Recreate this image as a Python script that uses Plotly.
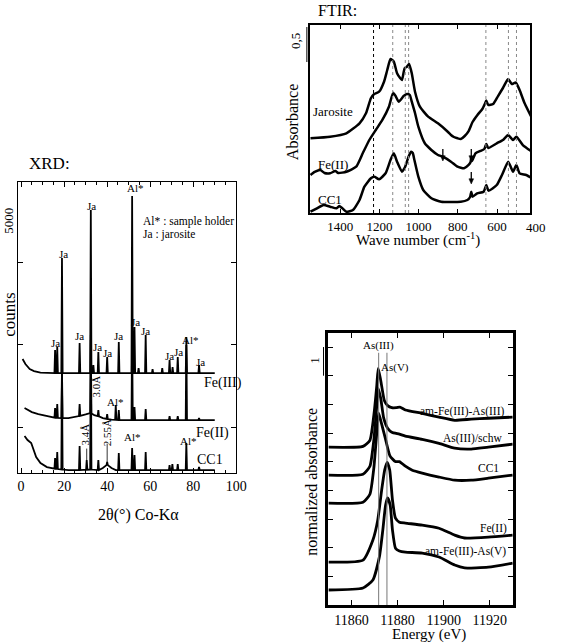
import plotly.graph_objects as go

W, H = 561, 643
FONT = "Liberation Serif, Times New Roman, serif"

# ---------------- XRD (2theta in degrees, counts above each pattern's own baseline) ----------------
xrd_fe3_x = [0.7, 2, 4, 6, 9, 12, 15.5, 15.8, 16.1, 16.5, 16.8, 17.1, 18.7, 19.0, 19.3, 24, 26.9, 27.2, 27.5, 30,
             32.1, 32.4, 32.7, 33.3, 33.6, 33.9, 35.6, 35.9, 36.2, 39.7, 40.0, 40.3, 45.1, 45.4, 45.7, 51.3, 51.6, 51.9,
             52.4, 52.7, 53.0, 54.3, 54.6, 54.9, 57.6, 57.9, 58.2, 60.8, 61.1, 61.4, 65.3, 65.6, 65.9, 68.7, 69.0, 69.3,
             70.1, 70.4, 70.7, 72.5, 72.8, 73.1, 76.5, 76.8, 77.1, 82.4, 82.7, 83.0, 90]
xrd_fe3_y = [424, 273, 121, 61, 15, 0, 0, 697, 0, 0, 788, 0, 0, 3485, 0, 0, 0, 909, 0, 0,
             0, 4939, 0, 0, 242, 0, 0, 636, 0, 0, 485, 0, 0, 939, 0, 0, 5363, 0,
             0, 1394, 0, 0, 150, 0, 0, 1151, 0, 0, 120, 0, 0, 150, 0, 0, 394, 0,
             0, 180, 0, 0, 485, 0, 0, 848, 0, 0, 242, 0, 0]

xrd_fe2_x = [1.6, 3, 5, 8, 12, 15.5, 15.8, 16.1, 16.5, 16.8, 17.1, 18.7, 19.0, 19.3, 22, 26.9, 27.2, 27.5, 30,
             32.1, 32.4, 32.7, 34, 35.6, 35.9, 36.2, 38, 39.7, 40.0, 40.3, 42, 43.7, 44.0, 44.3, 45.1, 45.4, 45.7, 48,
             51.3, 51.6, 51.9, 52.4, 52.7, 53.0, 57.6, 57.9, 58.2, 68.7, 69.0, 69.3, 72.5, 72.8, 73.1, 76.5, 76.8, 77.1,
             82.4, 82.7, 83.0, 90]
xrd_fe2_y = [364, 303, 242, 182, 121, 70, 364, 65, 65, 485, 65, 60, 1515, 60, 61, 120, 485, 130, 170,
             210, 2424, 200, 150, 121, 303, 110, 60, 35, 182, 30, 10, 5, 455, 5, 0, 303, 0, 0,
             0, 2727, 0, 0, 394, 0, 0, 333, 0, 0, 121, 0, 0, 121, 0, 0, 2515, 0,
             0, 61, 0, 0]

xrd_cc1_x = [1.6, 3, 4.7, 6, 7, 9, 12, 15.5, 15.8, 16.1, 16.5, 16.8, 17.1, 18.7, 19.0, 19.3, 22, 26.9, 27.2, 27.5,
             30.2, 30.5, 30.8, 32.1, 32.4, 32.7, 35.6, 35.9, 36.2, 38, 39.7, 40.0, 40.3, 42, 44, 45.1, 45.4, 45.7,
             51.3, 51.6, 51.9, 52.4, 52.7, 53.0, 57.6, 57.9, 58.2, 68.7, 69.0, 69.3, 70.0, 70.3, 70.6, 72.5, 72.8, 73.1,
             76.5, 76.8, 77.1, 82.4, 82.7, 83.0, 90]
xrd_cc1_y = [1030, 909, 818, 545, 394, 212, 91, 40, 364, 35, 35, 545, 30, 15, 2970, 15, 0, 0, 727, 0,
             10, 303, 10, 15, 4090, 15, 0, 303, 0, 60, 150, 242, 150, 60, 0, 0, 515, 0,
             0, 667, 0, 0, 455, 0, 0, 545, 0, 0, 152, 0, 0, 180, 0, 0, 182, 0,
             0, 818, 0, 0, 91, 0, 0]

XRD_OFFSET_FE3 = 1640
XRD_OFFSET_FE2 = 215
XRD_OFFSET_CC1 = -1300

# ---------------- FTIR (wavenumber cm-1, absorbance) ----------------
ftir_jar_wn = [1551.5, 1451.5, 1368.5, 1301.5, 1268.5, 1243.5, 1226.5, 1201.5, 1176.5, 1160, 1143.5, 1126.5, 1110,
               1093.5, 1085, 1071.5, 1060, 1048.5, 1035, 1018.5, 993.5, 951.5, 901.5, 851.5, 835, 820, 801.5, 785,
               765, 745, 725, 700, 675, 662.5, 655, 645, 620, 595, 570, 543.5, 525, 505, 485, 460, 425]
ftir_jar_abs = [0.067, 0.090, 0.139, 0.281, 0.424, 0.639, 0.700, 0.733, 0.876, 1.043, 1.200, 1.161, 0.996,
                0.924, 0.900, 1.067, 1.090, 1.129, 0.996, 0.733, 0.519, 0.376, 0.281, 0.161, 0.114, 0.086, 0.067, 0.057,
                0.100, 0.171, 0.300, 0.400, 0.486, 0.557, 0.607, 0.543, 0.557, 0.671, 0.786, 0.914, 0.843, 0.864,
                0.757, 0.571, 0.371]

ftir_fe2_wn = [1551.5, 1530, 1501.5, 1480, 1451.5, 1425, 1410, 1368.5, 1318.5, 1285, 1251.5, 1218.5, 1185, 1151.5,
               1130, 1117.5, 1101.5, 1076.5, 1060, 1045, 1035, 1018.5, 1001.5, 968.5, 935, 901.5, 876.5, 835, 801.5,
               768.5, 745, 735, 731.5, 727.5, 710, 685, 665, 655, 645, 601.5, 570, 543.5, 518.5, 501.5, 468.5, 421.5]
ftir_fe2_abs = [0.043, 0.086, 0.114, 0.071, 0.067, 0.100, 0.071, 0.090, 0.161, 0.353, 0.543, 0.686, 0.829, 1.019,
                1.219, 1.171, 1.090, 1.171, 1.200, 1.186, 1.090, 0.929, 0.733, 0.496, 0.400, 0.329, 0.304, 0.233, 0.161,
                0.139, 0.186, 0.229, 0.300, 0.243, 0.353, 0.386, 0.414, 0.486, 0.429, 0.496, 0.543, 0.614, 0.543,
                0.590, 0.471, 0.376]

ftir_cc1_wn = [1551.5, 1518.5, 1485, 1451.5, 1418.5, 1405, 1390, 1368.5, 1335, 1301.5, 1276.5, 1243.5, 1226.5,
               1201.5, 1168.5, 1143.5, 1126.5, 1110, 1085, 1068.5, 1051.5, 1038.5, 1030, 1021.5, 1001.5, 976.5, 935,
               885, 785, 751.5, 737.5, 731.5, 725, 701.5, 668.5, 655, 643.5, 601.5, 575, 543.5, 530, 518.5, 501.5,
               485, 451.5, 421.5]
ftir_cc1_abs = [0.019, 0.067, 0.114, 0.090, 0.067, 0.100, 0.071, 0.019, 0.043, 0.186, 0.376, 0.496, 0.519,
                0.481, 0.567, 0.757, 0.853, 0.733, 0.590, 0.661, 0.804, 0.876, 0.857, 0.757, 0.519, 0.329, 0.210,
                0.161, 0.161, 0.186, 0.229, 0.304, 0.233, 0.281, 0.304, 0.400, 0.319, 0.400, 0.543, 0.733, 0.657,
                0.590, 0.686, 0.567, 0.543, 0.496]

FTIR_OFFSET_JAR = 1.0
FTIR_OFFSET_FE2 = 0.5
FTIR_OFFSET_CC1 = 0.0
ftir_band_lines = [1230, 1132, 1068, 1051, 657, 542, 501]
ftir_ticks = [1400, 1200, 1000, 800, 600]
ftir_arrows = [(876.5, 0.743), (731.5, 0.743), (731.5, 0.414)]  # (wavenumber, absorbance at arrow tip)

# ---------------- XANES (energy eV, normalized absorbance) ----------------
xanes_as3am_e = [11850, 11865, 11868, 11869.7, 11871, 11871.6, 11872.7, 11874.3, 11875.7, 11877.5, 11879.5, 11881,
                 11883.4, 11890.7, 11898, 11904.8, 11912, 11919.4, 11930]
xanes_as3am_a = [0, 0.03, 0.24, 1.11, 2.16, 2.75, 2.33, 1.62, 1.45, 1.38, 1.38, 1.40, 1.30, 1.18, 1.05, 0.94,
                 0.98, 1.01, 1.05]

xanes_schw_e = [11850, 11865, 11868, 11869.7, 11871, 11871.6, 11872.7, 11874, 11875.7, 11877.5, 11880.8, 11883.4,
                11890.7, 11898, 11904.8, 11912, 11919.4, 11930]
xanes_schw_a = [0, 0.03, 0.31, 1.22, 2.44, 3.03, 2.68, 1.99, 1.64, 1.50, 1.43, 1.36, 1.25, 1.11, 0.94, 0.91,
                0.98, 1.08]

xanes_cc1_e = [11850, 11865, 11868, 11869.7, 11871, 11871.8, 11873, 11874.7, 11876.7, 11879, 11880.8, 11883.4,
               11886.4, 11890.7, 11898, 11904.8, 11912, 11919.4, 11930]
xanes_cc1_a = [0, 0.03, 0.31, 1.22, 2.47, 3.14, 2.79, 2.26, 1.65, 1.45, 1.45, 1.29, 1.15, 1.05, 0.91, 0.80, 0.80,
               0.87, 0.98]

xanes_fe2_e = [11850, 11865, 11869.3, 11871.4, 11873.1, 11874.4, 11875.5, 11876.6, 11877.8, 11879.1, 11880.8,
               11883.4, 11890.7, 11898, 11904.8, 11909.1, 11919.4, 11930]
xanes_fe2_a = [0, 0.07, 0.77, 1.46, 2.51, 3.21, 3.48, 3.21, 2.16, 1.53, 1.39, 1.36, 1.29, 1.18, 0.94, 0.84, 0.87,
               0.94]

xanes_as5am_e = [11850, 11865, 11869.3, 11872.1, 11873.6, 11874.8, 11875.7, 11876.8, 11877.8, 11879.1, 11880.8,
                 11883.4, 11890.7, 11898, 11904.8, 11909.1, 11919.4, 11930]
xanes_as5am_a = [0, 0.07, 0.35, 1.15, 2.09, 2.96, 3.21, 2.96, 2.09, 1.46, 1.36, 1.32, 1.29, 1.15, 0.87, 0.77, 0.80,
                 0.94]

XANES_OFFSETS = [5.505, 4.53, 3.554, 1.498, 0.523]
xanes_ref_lines = {"As(III)": 11871.8, "As(V)": 11875.4}


def px(x, y):
    """pixel position on the page -> paper coordinates"""
    return x / W, 1 - y / H


fig = go.Figure()

# XRD traces
for xs, ys, off in [(xrd_fe3_x, xrd_fe3_y, XRD_OFFSET_FE3), (xrd_fe2_x, xrd_fe2_y, XRD_OFFSET_FE2),
                    (xrd_cc1_x, xrd_cc1_y, XRD_OFFSET_CC1)]:
    fig.add_trace(go.Scatter(x=xs, y=[v + off for v in ys], mode="lines",
                             line=dict(color="black", width=1.8), xaxis="x", yaxis="y", showlegend=False))

# FTIR traces
for xs, ys, off in [(ftir_jar_wn, ftir_jar_abs, FTIR_OFFSET_JAR), (ftir_fe2_wn, ftir_fe2_abs, FTIR_OFFSET_FE2),
                    (ftir_cc1_wn, ftir_cc1_abs, FTIR_OFFSET_CC1)]:
    fig.add_trace(go.Scatter(x=xs, y=[v + off for v in ys], mode="lines",
                             line=dict(color="black", width=2.5, shape="spline", smoothing=0.5),
                             xaxis="x2", yaxis="y2", showlegend=False))

# XANES traces
for (xs, ys), off in zip([(xanes_as3am_e, xanes_as3am_a), (xanes_schw_e, xanes_schw_a), (xanes_cc1_e, xanes_cc1_a),
                          (xanes_fe2_e, xanes_fe2_a), (xanes_as5am_e, xanes_as5am_a)], XANES_OFFSETS):
    fig.add_trace(go.Scatter(x=xs, y=[v + off for v in ys], mode="lines",
                             line=dict(color="black", width=2.8, shape="spline", smoothing=0.5),
                             xaxis="x3", yaxis="y3", showlegend=False))

shapes = []
# FTIR dotted band lines
for i, wn in enumerate(ftir_band_lines):
    shapes.append(dict(type="line", xref="x2", yref="y2 domain", x0=wn, x1=wn, y0=0, y1=1,
                       line=dict(color="black" if i == 0 else "#888888", width=1, dash="dot")))
# FTIR arrows (shaft + head)
for wn, a in ftir_arrows:
    shapes.append(dict(type="line", xref="x2", yref="y2", x0=wn, x1=wn, y0=a + 0.05, y1=a + 0.17,
                       line=dict(color="black", width=1.3)))
    shapes.append(dict(type="path", xref="x2", yref="y2",
                       path=f"M {wn - 12},{a + 0.075} L {wn + 12},{a + 0.075} L {wn},{a} Z",
                       fillcolor="black", line=dict(color="black", width=0.5)))
# XANES reference lines
for key in ["As(III)", "As(V)"]:
    shapes.append(dict(type="line", xref="x3", yref="y3", x0=xanes_ref_lines[key], x1=xanes_ref_lines[key],
                       y0=0, y1=8.8, line=dict(color="#777777", width=1)))
# scale bars
shapes.append(dict(type="line", xref="paper", yref="y2", x0=313 / W, x1=313 / W, y0=2.157, y1=2.657,
                   line=dict(color="black", width=1)))
shapes.append(dict(type="line", xref="paper", yref="y3", x0=330 / W, x1=330 / W, y0=8, y1=9,
                   line=dict(color="black", width=1)))
# XRD d-spacing marker lines
shapes.append(dict(type="line", xref="x", yref="y", x0=30.5, x1=30.5, y0=XRD_OFFSET_CC1 + 303,
                   y1=XRD_OFFSET_CC1 + 650, line=dict(color="black", width=0.8)))
shapes.append(dict(type="line", xref="x", yref="y", x0=40.0, x1=40.0, y0=XRD_OFFSET_CC1 + 242,
                   y1=XRD_OFFSET_CC1 + 800, line=dict(color="black", width=0.8)))

ann = []


def text(t, x, y, size, xref="paper", yref="paper", angle=0, xanchor="center", yanchor="middle"):
    ann.append(dict(text=t, x=x, y=y, xref=xref, yref=yref, showarrow=False, textangle=angle,
                    xanchor=xanchor, yanchor=yanchor, font=dict(family=FONT, size=size, color="black")))


def ptext(t, xpix, ypix, size, angle=0, xanchor="center"):
    x, y = px(xpix, ypix)
    text(t, x, y, size, angle=angle, xanchor=xanchor)


# ---- XRD texts
ptext("XRD:", 50, 163, 17)
ptext("counts", 9, 315, 17, angle=-90)
ptext("5000", 9, 221, 13, angle=-90)
ptext("2θ(°) Co-Kα", 141, 515, 16)
for lbl, x, y in [("Ja", 16.2, 2549), ("Ja", 19.5, 5246), ("Ja", 27.2, 2761), ("Ja", 32.7, 6700), ("Ja", 35.5, 2428),
                  ("Ja", 40.0, 2246), ("Ja", 45.5, 2761), ("Ja", 53.3, 3185), ("Ja", 57.9, 2913), ("Ja", 68.9, 2155),
                  ("Ja", 73.0, 2276), ("Ja", 83.5, 1973), ("Al*", 53.3, 7245), ("Al*", 78.5, 2640),
                  ("Al*", 43.7, 761), ("Al*", 52.0, -299), ("Al*", 78.0, -420)]:
    text(lbl, x, y, 11, xref="x", yref="y")
text("3.0Å", 35.0, 1246, 11, xref="x", yref="y", angle=-90)
text("3.4Å", 29.5, -239, 11, xref="x", yref="y", angle=-90)
text("2.55Å", 40.0, -178, 11, xref="x", yref="y", angle=-90)
text("Al* : sample holder", 55.7, 6246, 11.5, xref="x", yref="y", xanchor="left")
text("Ja : jarosite", 55.7, 5852, 11.5, xref="x", yref="y", xanchor="left")
text("Fe(III)", 93.6, 1337, 14, xref="x", yref="y")
text("Fe(II)", 89.0, -178, 14, xref="x", yref="y")
text("CC1", 87.6, -966, 14, xref="x", yref="y")

# ---- FTIR texts
ptext("FTIR:", 344, 10, 16)
ptext("Absorbance", 298, 122, 16, angle=-90)
ptext("0,5", 301, 41, 13, angle=-90)
ptext("Wave number (cm<sup>-1</sup>)", 426, 239, 15)
ptext("400", 547, 227, 13)
text("Jarosite", 1435, 1.447, 13, xref="x2", yref="y2")
text("Fe(II)", 1435, 0.686, 13, xref="x2", yref="y2")
text("CC1", 1450, 0.186, 13, xref="x2", yref="y2")

# ---- XANES texts
ptext("normalized absorbance", 317, 482, 16, angle=-90)
ptext("1", 320, 360, 13, angle=-90)
ptext("Energy (eV)", 438, 634, 15)
text("As(III)", 11871.8, 9.06, 11, xref="x3", yref="y3")
text("As(V)", 11878.7, 8.29, 11, xref="x3", yref="y3")
for lbl, x, y in [("am-Fe(III)-As(III)", 11927.1, 6.735), ("As(III)/schw", 11926.2, 5.82), ("CC1", 11925, 4.77),
                  ("Fe(II)", 11928.4, 2.68), ("am-Fe(III)-As(V)", 11928, 1.85)]:
    text(lbl, x, y, 11.5, xref="x3", yref="y3", xanchor="right")

axis_common = dict(showline=True, linecolor="black", mirror="ticks", ticks="inside", showgrid=False,
                   zeroline=False, tickcolor="black", tickfont=dict(family=FONT, size=14, color="black"))

fig.update_layout(
    width=W, height=H, margin=dict(l=0, r=0, t=0, b=0),
    paper_bgcolor="white", plot_bgcolor="white", showlegend=False,
    shapes=shapes, annotations=ann,
    xaxis=dict(axis_common, domain=[18 / W, 241 / W], range=[-1.6, 100], tickvals=[0, 20, 40, 60, 80, 100],
               linewidth=1.2, ticklen=5,
               minor=dict(ticks="inside", dtick=5, ticklen=3, tickcolor="black"), anchor="y"),
    yaxis=dict(axis_common, domain=[1 - 473 / H, 1 - 182 / H], range=[-1390, 7430], tickvals=[0, 2500, 5000],
               showticklabels=False, linewidth=1.2, ticklen=5, anchor="x"),
    xaxis2=dict(axis_common, domain=[316 / W, 541 / W], range=[1555, 430], tickvals=ftir_ticks,
                tickfont=dict(family=FONT, size=13, color="black"), linewidth=2, ticklen=4, anchor="y2"),
    yaxis2=dict(axis_common, domain=[1 - 213 / H, 1 - 25 / H], range=[0, 2.686], ticks="",
                showticklabels=False, linewidth=2, anchor="x2"),
    xaxis3=dict(axis_common, domain=[335 / W, 523 / W], range=[11850, 11930], tickvals=[11860, 11880, 11900, 11920],
                tickformat="d", tickfont=dict(family=FONT, size=14, color="black"), linewidth=2.5, ticklen=5,
                anchor="y3"),
    yaxis3=dict(axis_common, domain=[1 - 605 / H, 1 - 333 / H], range=[0, 9.49], tickvals=list(range(1, 10)),
                showticklabels=False, linewidth=2.5, ticklen=5, anchor="x3"),
)

fig.write_html("out.html", config={"displayModeBar": False},
               post_script="document.body.style.margin='0';document.body.style.overflow='hidden';")
